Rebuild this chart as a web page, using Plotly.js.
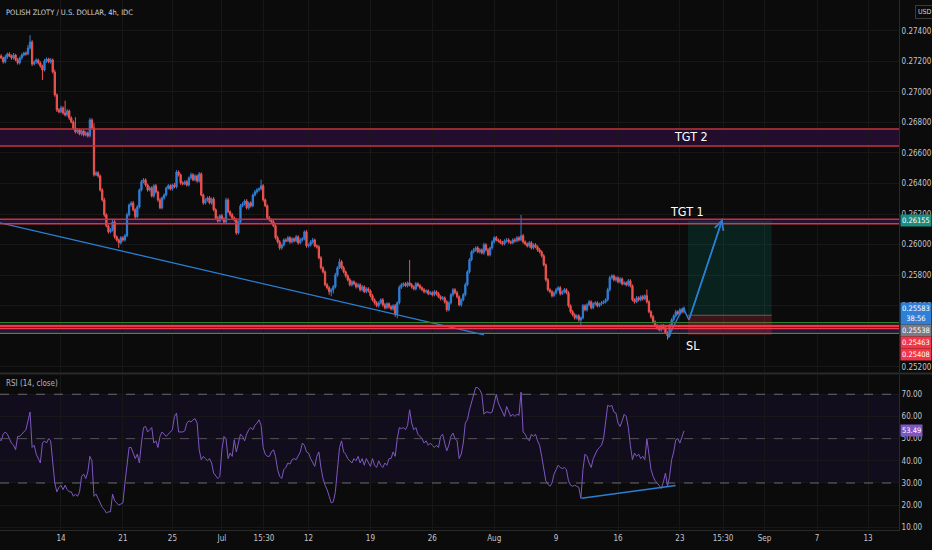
<!DOCTYPE html>
<html>
<head>
<meta charset="utf-8">
<script src="https://cdn.plot.ly/plotly-3.0.1.min.js"></script>
<style>
html,body{margin:0;padding:0;background:#0b0b0b;}
#chart{width:932px;height:550px;}
</style>
</head>
<body>
<div id="chart"></div>
<script>
// ---- DATA (prices x 1e5) ----
const firstOpen = 27228;
const closeP = [
27235,27222,27196,27228,27248,27235,27222,27241,27209,27189,
27222,27241,27254,27248,27287,27326,27182,27196,27209,27189,
27169,27143,27202,27215,27196,27209,27130,26980,26882,26869,
26895,26862,26849,26875,26829,26803,26764,26738,26751,26725,
26744,26718,26731,26712,26816,26764,26457,26470,26450,26358,
26293,26195,26123,26084,26097,26149,26051,26031,26012,26045,
26031,26058,26195,26260,26273,26228,26182,26247,26358,26411,
26424,26391,26358,26371,26319,26385,26345,26293,26241,26306,
26325,26371,26385,26365,26391,26378,26476,26457,26404,26398,
26411,26391,26437,26457,26424,26450,26417,26463,26325,26273,
26293,26306,26273,26299,26228,26175,26155,26189,26169,26149,
26293,26215,26195,26175,26162,26077,26149,26254,26267,26286,
26241,26273,26254,26325,26345,26358,26365,26385,26293,26254,
26175,26162,26149,26123,26045,26018,25979,25998,26031,26025,
26045,26018,26038,26025,26051,26012,26031,26038,26084,25992,
25998,26018,26031,25992,25985,25914,25849,25822,25737,25718,
25692,25705,25724,25802,25849,25888,25849,25822,25796,25770,
25737,25757,25744,25724,25737,25705,25724,25692,25711,25698,
25666,25639,25619,25600,25619,25639,25606,25587,25613,25593,
25580,25600,25548,25620,25720,25737,25744,25731,25750,25737,
25724,25711,25744,25731,25718,25705,25692,25698,25679,25685,
25672,25692,25679,25659,25646,25652,25626,25574,25619,25672,
25705,25685,25659,25606,25639,25672,25737,25822,25901,25953,
25966,25979,25953,25966,25946,25999,25966,25933,25979,26018,
26045,26031,26025,26012,26005,26025,26031,26018,26012,26031,
26025,26045,26031,26058,26018,26005,25992,26012,25979,25999,
25986,25966,25953,25927,25868,25770,25705,25692,25666,25685,
25705,25718,25679,25692,25705,25685,25600,25561,25541,25521,
25534,25508,25521,25600,25574,25606,25626,25587,25613,25619,
25600,25613,25619,25626,25639,25705,25783,25796,25770,25783,
25757,25776,25744,25750,25737,25763,25731,25639,25626,25652,
25639,25659,25646,25666,25626,25561,25528,25495,25469,25456,
25443,25469,25456,25423,25404,25469,25508,25534,25561,25548,
25574,25561,25583
];
const wickUp = [
10,12,8,14,9,11,10,13,8,12,
9,11,8,10,20,45,12,9,10,8,
11,9,14,10,8,12,9,15,10,12,
14,10,80,12,9,11,10,70,12,9,
10,8,12,9,14,11,30,12,10,9,
12,14,10,9,11,15,12,10,8,11,
10,12,14,9,11,13,10,12,9,14,
12,10,9,13,11,10,12,9,14,10,
11,9,12,10,8,13,12,10,9,11,
10,12,9,14,11,10,8,12,10,9,
11,10,12,9,13,10,11,9,12,10,
14,11,9,12,10,13,9,12,11,10,
12,9,11,10,13,12,10,40,11,9,
10,12,9,11,10,14,12,9,10,11,
12,10,11,9,13,10,12,11,9,12,
10,11,13,9,10,12,11,9,10,12,
11,9,12,14,10,20,11,12,9,10,
12,10,9,11,13,10,12,9,11,10,
9,11,10,12,10,9,11,12,10,9,
11,10,12,9,14,12,10,11,9,150,
12,10,11,9,12,10,11,9,10,12,
10,12,9,11,10,12,9,11,10,12,
11,10,12,9,10,12,14,11,12,10,
13,10,12,11,9,14,10,12,9,11,
10,12,9,11,13,10,12,11,9,10,
12,10,11,137,12,10,9,11,12,10,
11,9,12,10,11,9,12,10,11,9,
12,10,11,9,12,10,11,9,12,10,
10,11,9,12,10,11,12,9,10,11,
11,9,12,10,11,13,12,10,9,11,
10,12,9,11,10,12,11,9,10,12,
11,10,12,9,40,11,10,12,9,10,
12,10,11,9,10,12,11,10,13,9,
11,10,12
];
const wickDown = [
12,9,11,10,13,8,12,10,9,11,
10,12,9,11,8,10,13,9,12,10,
11,65,10,12,9,11,10,12,14,10,
9,12,10,11,13,9,12,10,11,9,
12,10,9,11,10,12,11,9,12,10,
11,13,10,12,9,11,12,10,33,11,
12,10,9,11,12,10,13,9,11,10,
10,12,11,9,10,12,11,13,9,10,
12,9,11,10,12,9,10,11,12,10,
9,11,10,12,9,10,12,11,9,12,
10,12,9,11,10,12,11,9,10,12,
11,9,12,10,11,13,10,12,9,11,
10,12,11,9,10,12,11,10,12,9,
11,10,12,9,11,10,13,12,10,11,
9,12,10,11,10,12,9,11,10,12,
11,10,12,9,11,10,12,11,10,12,
20,30,25,10,12,9,11,10,12,11,
10,12,9,11,10,12,11,9,10,12,
11,10,12,9,11,10,12,11,10,12,
10,12,20,30,11,10,12,9,11,10,
12,10,11,9,12,10,11,12,10,9,
11,10,12,9,11,10,12,13,10,11,
12,10,11,9,12,10,11,9,12,10,
10,12,9,11,10,12,11,9,10,12,
11,10,12,9,11,10,12,11,10,9,
12,10,11,9,12,10,11,12,10,11,
10,12,9,11,10,12,11,10,12,9,
11,10,12,9,11,10,12,11,10,12,
10,12,40,11,10,12,9,11,10,12,
11,10,12,9,11,10,12,11,10,12,
10,12,11,9,10,12,11,10,12,9,
11,10,12,9,11,10,12,11,10,12,
10,12,11,9,26,12,10,11,12,10,
11,12,10
];
const rsiVals = [
50,49,52,53,52,50,48,47,45,51,
51,52,53,54,58,62,46,47,43,41,
39,48,49,48,50,49,38,30,26,28,
29,27,29,27,26,26,24,25,24,26,
33,34,32,35,42,40,24,25,23,21,
19,18,16.5,17,17,25,22,21,20,20.5,
21,30,38,46,46,43,41,43,39,48,
55,55.5,53,54,55,48,49,46,51,53,
52,51,52,53,54,60,61.5,53,53,53,
53.5,57,58,57.5,58.5,59,57,45,40.5,42,
41,40,41,39,34.5,33,32,33,45,51,
50,41,43.5,42,49.5,44,48,52,51,49,
52,54,55,54,56,57,58.5,56,46,43,
42,42,44,45,42,36,33,32,36,37,
39,38.5,40.5,41,40.5,42,44,48,47,44,
43.5,41,39,37.5,42,44,37,32,29,27,
24,21,21.5,26,36,46,49,44,43,41,
40,39,41,40,42,39,41,38,41,39,
37.5,41,38,37,40,38,37,39,38,41,
41,44,42,50,55,54.5,55,54,56,63,
57,54,55,52,51,50,48,49,47,48,
47,46,47,46,51,52,48,44.5,47,51,
52.5,50,49,41,43,48,57,58.5,63,66,
70,73,73,72,70,61,62,62,61.5,62,
66,70,66,64,62,60,64.5,62,60,61,
60,61,60.5,71,53,52,50,49,52,51,
52,49,47,42,37,31,29.5,28.5,30,34,
36,38,37,36.5,37,36,31,29,28.5,29,
28.5,28,23,36,43,42,39,37,41,43,
45,46,47,50,58,65,64.5,65,62,61.5,
57,55.5,58,61,60,55,47,40.5,43.5,42,
43,41,42,40.5,50,43,36,33,31,30,
28.5,27.5,30.5,34.5,28.5,33,40.5,44,49.5,50,
48,51,53.49
];
// x-axis labels (candle index of each date label)
const tickPos  = [30, 60, 84, 108, 128.4, 150, 180, 210, 240, 270, 300, 330, 350.9, 371, 396.5, 421.2];
const tickText = ['14','21','25','Jul','15:30','12','19','26','Aug','9','16','23','15:30','Sep','7','13'];
const priceTicks = [0.252,0.256,0.258,0.260,0.262,0.264,0.266,0.268,0.270,0.272,0.274];
const rsiTicks = [10,20,30,40,50,60,70];
// drawings
const tgt2Zone = [0.26646, 0.26757];
const tgt1Zone = [0.26136, 0.26167];
const supportGreen = [0.25490, 0.25420];
const supportRed = [0.25467, 0.25452];
const supportFill = [0.25423, 0.25452];
const posX = [333.9, 374.5];
const entry = 0.25538, takeProfit = 0.26155, stopLoss = 0.25408, lastPrice = 0.25583, markLevel = 0.25463;
const trendX = [0.44, 235.0], trendY = [0.26143, 0.25410];
const arrowX = [324.2, 331.5, 334.4, 350.7], arrowY = [0.25391, 0.25587, 0.25508, 0.26169];
const divX = [282.4, 327.9], divY = [23.1, 28.9];
const lastRsi = 53.49;

// ---- BUILD ----
const idx = closeP.map((_, i) => i);
const close = closeP.map(v => v / 1e5);
const open = closeP.map((v, i) => (i ? closeP[i - 1] : firstOpen) / 1e5);
const high = close.map((c, i) => Math.max(c, open[i]) + wickUp[i] / 1e5);
const low = close.map((c, i) => Math.min(c, open[i]) - wickDown[i] / 1e5);

const UP = '#2f7fd8', DN = '#ef5350', BLUE = '#2a7fd4';
const FONT = 'Liberation Sans Narrow, DejaVu Sans Condensed, Roboto, sans-serif';
const TXT = '#c3c5cc';

const traces = [
  {type:'candlestick', x: idx, open, high, low, close, xaxis:'x', yaxis:'y',
   increasing:{line:{color:UP,width:1}, fillcolor:UP},
   decreasing:{line:{color:DN,width:1}, fillcolor:DN},
   whiskerwidth:0, hoverinfo:'skip'},
  {type:'scatter', mode:'lines', x: trendX, y: trendY, xaxis:'x', yaxis:'y',
   line:{color:BLUE, width:1.3}, hoverinfo:'skip'},
  {type:'scatter', mode:'lines', x: arrowX, y: arrowY, xaxis:'x', yaxis:'y',
   line:{color:BLUE, width:1.5}, hoverinfo:'skip'},
  {type:'scatter', mode:'lines', x: idx, y: rsiVals, xaxis:'x', yaxis:'y2',
   line:{color:'#7e57c2', width:1}, hoverinfo:'skip'},
  {type:'scatter', mode:'lines', x: divX, y: divY, xaxis:'x', yaxis:'y2',
   line:{color:BLUE, width:1.5}, hoverinfo:'skip'}
];

function hline(y, color, width, yref) {
  return {type:'line', xref:'paper', yref:yref || 'y', x0:0, x1:1, y0:y, y1:y, line:{color, width}};
}

const shapes = [
  // TGT 2 zone
  {type:'rect', xref:'paper', yref:'y', x0:0, x1:1, y0:tgt2Zone[0], y1:tgt2Zone[1],
   fillcolor:'#220e2c', line:{width:0}, layer:'below'},
  hline(tgt2Zone[0], '#c2343f', 1.5), hline(tgt2Zone[1], '#c2343f', 1.5),
  // TGT 1 zone
  {type:'rect', xref:'paper', yref:'y', x0:0, x1:1, y0:tgt1Zone[0], y1:tgt1Zone[1],
   fillcolor:'#2a1030', line:{width:0}, layer:'below'},
  hline(tgt1Zone[0], '#d23a45', 1.5), hline(tgt1Zone[1], '#c2343f', 1.5),
  // support zone
  {type:'rect', xref:'paper', yref:'y', x0:0, x1:1, y0:supportFill[0], y1:supportFill[1],
   fillcolor:'#2a1238', line:{width:0}, layer:'below'},
  hline(supportGreen[0], '#2e7d32', 1.2), hline(supportGreen[1], '#3d8c40', 1.2),
  hline(supportRed[0], '#f23645', 2.5), hline(supportRed[1], '#e0404f', 1.5),
  // position box
  {type:'rect', xref:'x', yref:'y', x0:posX[0], x1:posX[1], y0:entry, y1:takeProfit,
   fillcolor:'rgba(8,153,129,0.16)', line:{width:0}},
  {type:'rect', xref:'x', yref:'y', x0:posX[0], x1:posX[1], y0:stopLoss, y1:entry,
   fillcolor:'rgba(242,54,69,0.22)', line:{width:0}},
  {type:'line', xref:'x', yref:'y', x0:posX[0], x1:posX[1], y0:entry, y1:entry,
   line:{color:'#6d5a60', width:1}},
  // RSI band
  {type:'rect', xref:'paper', yref:'y2', x0:0, x1:1, y0:30, y1:70,
   fillcolor:'#120d1c', line:{width:0}, layer:'below'},
  {type:'line', xref:'paper', yref:'y2', x0:0, x1:1, y0:70, y1:70, line:{color:'#6a6772', width:1, dash:'dash'}},
  {type:'line', xref:'paper', yref:'y2', x0:0, x1:1, y0:50, y1:50, line:{color:'#55525d', width:1, dash:'dash'}},
  {type:'line', xref:'paper', yref:'y2', x0:0, x1:1, y0:30, y1:30, line:{color:'#6a6772', width:1, dash:'dash'}},
  // pane separator
  {type:'line', xref:'paper', yref:'paper', x0:0, x1:1.04, y0:0.2955, y1:0.2955, line:{color:'#2a2a2a', width:2}}
];

function priceLabel(text, y, bg, yshift, extra) {
  return Object.assign({xref:'paper', yref:'y', x:1, y:y, xanchor:'left', yanchor:'middle',
    text:text, showarrow:false, bgcolor:bg, borderpad:1, yshift:yshift, xshift:1,
    font:{family:FONT, size:7.5, color:'#ffffff'}}, extra || {});
}

const annotations = [
  {xref:'paper', yref:'paper', x:0.004, y:0.977, xanchor:'left', yanchor:'middle', showarrow:false,
   text:'POLISH ZLOTY / U.S. DOLLAR, 4h, IDC', font:{family:FONT, size:7.5, color:'#d1d4dc'}},
  {xref:'paper', yref:'paper', x:1.018, y:0.978, xanchor:'left', yanchor:'middle', showarrow:false,
   text:'USD', bordercolor:'#3a3a3a', borderwidth:1, borderpad:2, font:{family:FONT, size:7, color:'#d1d4dc'}},
  {xref:'paper', yref:'paper', x:0.005, y:0.2755, xanchor:'left', yanchor:'middle', showarrow:false,
   text:'RSI (14, close)', font:{family:FONT, size:8, color:'#b2b5be'}},
  {xref:'x', yref:'y', x:335.2, y:0.26705, showarrow:false, text:'TGT 2',
   font:{family:FONT, size:12.5, color:'#ffffff'}},
  {xref:'x', yref:'y', x:333.4, y:0.26215, showarrow:false, text:'TGT 1',
   font:{family:FONT, size:12.5, color:'#ffffff'}},
  {xref:'x', yref:'y', x:336.4, y:0.25338, showarrow:false, text:'SL',
   font:{family:FONT, size:12.5, color:'#ffffff'}},
  // arrow head
  {xref:'x', yref:'y', axref:'x', ayref:'y', x:arrowX[3], y:arrowY[3], ax:arrowX[2], ay:arrowY[2],
   showarrow:true, arrowhead:5, arrowsize:1.2, arrowwidth:1.5, arrowcolor:BLUE, text:''},
  priceLabel(takeProfit.toFixed(5), takeProfit, '#1e8c7e', 0),
  priceLabel(lastPrice.toFixed(5) + '<br>38:56', lastPrice, '#2f7fd8', 6.6, {yanchor:'top'}),
  priceLabel(entry.toFixed(5), entry, '#787b86', -15.2),
  priceLabel(markLevel.toFixed(5), markLevel, '#f23645', -15.6),
  priceLabel(stopLoss.toFixed(5), stopLoss, '#f23645', -19.2),
  {xref:'paper', yref:'y2', x:1, y:lastRsi, xanchor:'left', yanchor:'middle', showarrow:false, xshift:1,
   text:lastRsi.toFixed(2), bgcolor:'#7e57c2', borderpad:1, font:{family:FONT, size:7.5, color:'#ffffff'}}
];

const axisFont = {family:FONT, size:8, color:TXT};
const layout = {
  width:932, height:550,
  margin:{l:0, r:33, t:0, b:20, pad:0},
  paper_bgcolor:'#0b0b0b', plot_bgcolor:'#0b0b0b',
  showlegend:false, boxgap:0.12,
  xaxis:{range:[0.44, 436.2], anchor:'y2', tickvals:tickPos, ticktext:tickText, ticks:'',
         showgrid:true, gridcolor:'#171717', gridwidth:1, zeroline:false,
         showline:true, linecolor:'#2a2a2a', linewidth:1,
         rangeslider:{visible:false}, tickfont:axisFont, fixedrange:true},
  yaxis:{domain:[0.2985,1], range:[0.25168, 0.27601], side:'right', tickvals:priceTicks,
         tickformat:'.5f', ticks:'', showgrid:true, gridcolor:'#171717', zeroline:false,
         showline:true, linecolor:'#2a2a2a', tickfont:axisFont, fixedrange:true},
  yaxis2:{domain:[0,0.2925], range:[8.8, 78.7], side:'right', tickvals:rsiTicks,
          tickformat:'.2f', ticks:'', showgrid:true, gridcolor:'#171717', zeroline:false,
          showline:true, linecolor:'#2a2a2a', tickfont:axisFont, fixedrange:true},
  shapes, annotations
};

Plotly.newPlot('chart', traces, layout, {staticPlot:true, displayModeBar:false});
</script>
</body>
</html>
